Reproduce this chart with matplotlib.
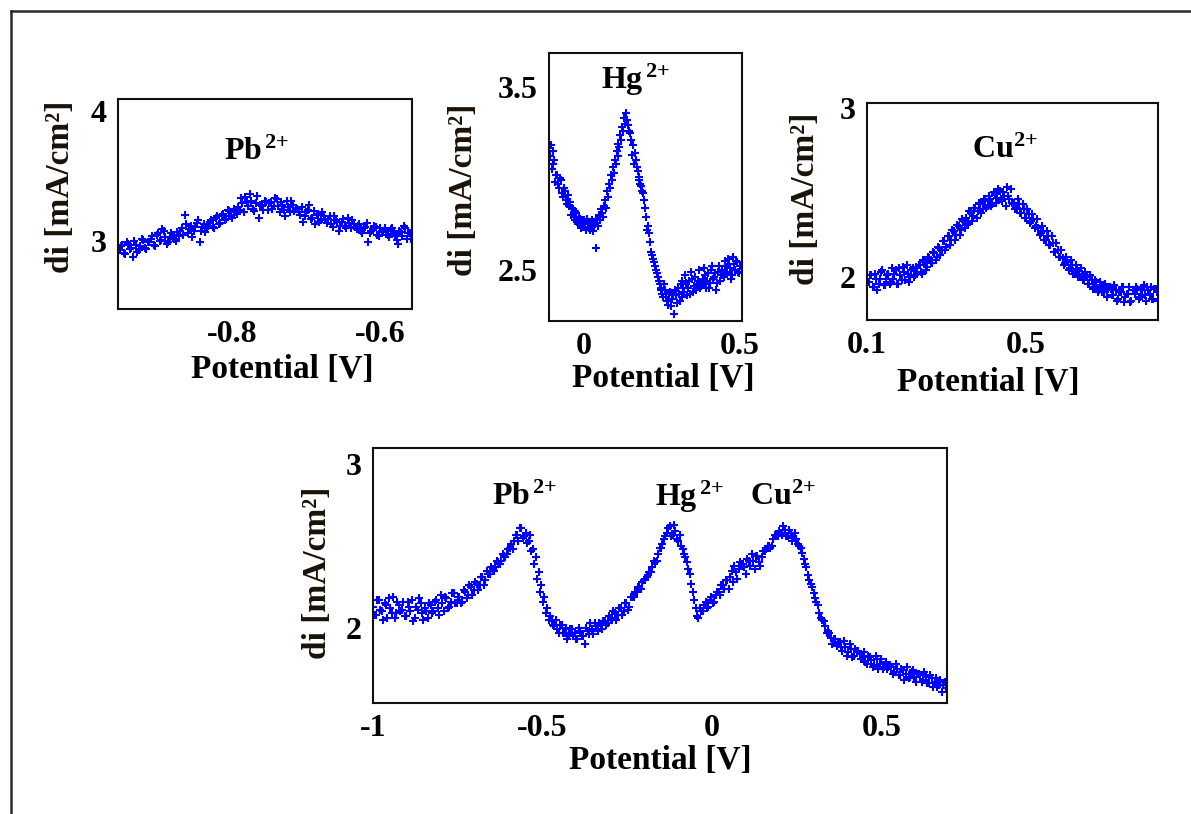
import numpy as np
import matplotlib
matplotlib.use('Agg')
import matplotlib.pyplot as plt
from matplotlib.lines import Line2D

plt.rcParams['font.family'] = ['Liberation Serif', 'DejaVu Serif']
plt.rcParams['font.weight'] = 'bold'
plt.rcParams['mathtext.fontset'] = 'custom'
plt.rcParams['mathtext.rm'] = 'Liberation Serif:bold'
plt.rcParams['mathtext.it'] = 'Liberation Serif:bold'
plt.rcParams['mathtext.bf'] = 'Liberation Serif:bold'

# Pb2+ panel (potential sweep -0.952 .. -0.556 V), two scans
pb_x_range = (-0.952, -0.556)
pb_y = [2.93, 2.97, 2.90, 2.98, 2.95, 3.00, 2.92, 2.96, 3.01, 2.94,
        2.99, 3.04, 2.96, 3.06, 3.01, 3.08, 2.98, 3.03, 3.05, 3.00,
        3.04, 3.10, 3.20, 3.06, 3.12, 3.08, 3.14, 2.99, 3.11, 3.07,
        3.12, 3.16, 3.10, 3.19, 3.14, 3.21, 3.17, 3.23, 3.18, 3.22,
        3.26, 3.33, 3.22, 3.30, 3.36, 3.25, 3.29, 3.18, 3.27, 3.31,
        3.24, 3.30, 3.27, 3.32, 3.22, 3.28, 3.19, 3.26, 3.31, 3.23,
        3.25, 3.20, 3.15, 3.22, 3.28, 3.18, 3.13, 3.21, 3.16, 3.19,
        3.14, 3.19, 3.11, 3.16, 3.08, 3.15, 3.12, 3.18, 3.10, 3.13,
        3.09, 3.13, 3.06, 3.11, 2.99, 3.08, 3.12, 3.05, 3.10, 3.07,
        3.08, 3.03, 3.10, 3.05, 2.98, 3.07, 3.12, 3.02, 3.06, 3.04]
pb_y2 = [2.96, 2.91, 2.99, 2.94, 2.88, 2.97, 2.93, 3.02, 2.95, 2.99,
         3.02, 2.97, 3.05, 3.00, 3.09, 3.03, 2.99, 3.06, 3.02, 3.07,
         3.08, 3.05, 3.13, 3.09, 3.03, 3.11, 3.16, 3.08, 3.13, 3.10,
         3.15, 3.11, 3.18, 3.13, 3.20, 3.16, 3.24, 3.19, 3.25, 3.21,
         3.24, 3.29, 3.34, 3.27, 3.31, 3.23, 3.35, 3.28, 3.24, 3.30,
         3.29, 3.25, 3.33, 3.27, 3.30, 3.24, 3.31, 3.22, 3.28, 3.25,
         3.22, 3.26, 3.19, 3.24, 3.17, 3.23, 3.20, 3.15, 3.22, 3.17,
         3.17, 3.13, 3.19, 3.15, 3.12, 3.17, 3.10, 3.14, 3.16, 3.11,
         3.12, 3.08, 3.10, 3.14, 3.06, 3.09, 3.11, 3.04, 3.08, 3.10,
         3.05, 3.09, 3.06, 3.01, 3.08, 3.04, 3.10, 3.06, 3.02, 3.08]

# Hg2+ panel (-0.110 .. 0.496 V)
hg_x_range = (-0.110, 0.496)
hg_y = [3.12, 3.05, 3.15, 2.98, 3.02, 2.95, 2.99, 2.90, 2.93, 2.86,
        2.85, 2.80, 2.83, 2.77, 2.81, 2.75, 2.78, 2.74, 2.77, 2.72,
        2.75, 2.72, 2.77, 2.74, 2.62, 2.78, 2.80, 2.83, 2.79, 2.88,
        2.93, 2.97, 3.02, 3.06, 3.10, 3.15, 3.19, 3.24, 3.28, 3.33,
        3.36, 3.29, 3.25, 3.13, 3.08, 3.10, 3.04, 2.99, 2.96, 2.92,
        2.84, 2.72, 2.70, 2.60, 2.56, 2.52, 2.48, 2.44, 2.40, 2.37,
        2.42, 2.35, 2.31, 2.38, 2.34, 2.26, 2.36, 2.40, 2.33, 2.44,
        2.40, 2.47, 2.36, 2.44, 2.49, 2.38, 2.46, 2.42, 2.50, 2.41,
        2.45, 2.51, 2.40, 2.48, 2.43, 2.52, 2.46, 2.39, 2.49, 2.44,
        2.50, 2.46, 2.55, 2.48, 2.53, 2.45, 2.57, 2.50, 2.54, 2.48]
hg_y2 = [3.18, 3.08, 3.10, 3.02, 2.97, 3.00, 2.92, 2.95, 2.88, 2.91,
         2.87, 2.84, 2.79, 2.82, 2.76, 2.79, 2.73, 2.76, 2.75, 2.78,
         2.73, 2.76, 2.71, 2.75, 2.78, 2.74, 2.77, 2.81, 2.85, 2.84,
         2.90, 2.95, 2.99, 3.03, 3.08, 3.12, 3.17, 3.21, 3.26, 3.30,
         3.32, 3.26, 3.21, 3.18, 3.14, 3.06, 3.01, 2.97, 2.93, 2.88,
         2.79, 2.74, 2.65, 2.58, 2.54, 2.50, 2.46, 2.42, 2.39, 2.35,
         2.39, 2.33, 2.37, 2.30, 2.36, 2.39, 2.32, 2.37, 2.42, 2.35,
         2.38, 2.43, 2.40, 2.37, 2.45, 2.41, 2.39, 2.44, 2.40, 2.43,
         2.42, 2.47, 2.44, 2.40, 2.50, 2.45, 2.48, 2.43, 2.52, 2.47,
         2.47, 2.52, 2.49, 2.56, 2.51, 2.47, 2.53, 2.55, 2.49, 2.52]

# Cu2+ panel (0.105 .. 0.830 V)
cu_x_range = (0.105, 0.830)
cu_y = [1.97, 2.01, 1.94, 1.99, 1.96, 2.03, 1.95, 1.99, 2.02, 1.97,
        1.99, 2.04, 1.96, 2.01, 2.06, 1.98, 2.02, 2.00, 2.05, 2.01,
        2.03, 2.07, 2.02, 2.09, 2.06, 2.11, 2.08, 2.14, 2.12, 2.17,
        2.16, 2.21, 2.18, 2.24, 2.22, 2.27, 2.25, 2.30, 2.28, 2.33,
        2.35, 2.32, 2.38, 2.36, 2.41, 2.39, 2.43, 2.40, 2.45, 2.42,
        2.46, 2.43, 2.49, 2.47, 2.51, 2.45, 2.48, 2.53, 2.46, 2.44,
        2.44, 2.41, 2.43, 2.38, 2.40, 2.35, 2.37, 2.33, 2.34, 2.30,
        2.29, 2.26, 2.27, 2.22, 2.24, 2.19, 2.20, 2.15, 2.16, 2.12,
        2.11, 2.08, 2.09, 2.05, 2.07, 2.03, 2.04, 2.01, 2.02, 1.99,
        2.00, 1.96, 1.98, 1.94, 1.97, 1.92, 1.95, 1.91, 1.94, 1.93,
        1.93, 1.89, 1.92, 1.87, 1.91, 1.94, 1.88, 1.90, 1.85, 1.92,
        1.90, 1.93, 1.88, 1.92, 1.89, 1.94, 1.90, 1.87, 1.93, 1.91]
cu_y2 = [2.01, 1.94, 2.02, 1.92, 1.99, 2.04, 1.95, 2.01, 1.96, 2.05,
         2.02, 1.96, 2.05, 1.98, 2.03, 2.07, 1.97, 2.04, 2.00, 2.06,
         2.07, 2.03, 2.10, 2.04, 2.12, 2.08, 2.15, 2.10, 2.18, 2.13,
         2.21, 2.16, 2.24, 2.19, 2.28, 2.22, 2.31, 2.25, 2.34, 2.29,
         2.31, 2.39, 2.33, 2.41, 2.35, 2.44, 2.38, 2.46, 2.41, 2.48,
         2.42, 2.50, 2.44, 2.52, 2.46, 2.50, 2.42, 2.48, 2.52, 2.43,
         2.40, 2.46, 2.38, 2.43, 2.35, 2.40, 2.32, 2.37, 2.29, 2.34,
         2.25, 2.30, 2.22, 2.27, 2.19, 2.24, 2.15, 2.20, 2.12, 2.16,
         2.07, 2.12, 2.04, 2.10, 2.02, 2.07, 2.00, 2.05, 1.98, 2.03,
         1.96, 2.01, 1.93, 1.98, 1.91, 1.97, 1.91, 1.96, 1.88, 1.94,
         1.89, 1.95, 1.86, 1.91, 1.94, 1.85, 1.90, 1.94, 1.86, 1.92,
         1.94, 1.87, 1.92, 1.95, 1.86, 1.92, 1.94, 1.87, 1.93, 1.86]

# mixture panel (-1.000 .. 0.690 V)
mix_x_range = (-1.000, 0.690)
mix_y = [2.13, 2.08, 2.17, 2.10, 2.15, 2.06, 2.12, 2.19, 2.09, 2.14,
         2.11, 2.07, 2.16, 2.10, 2.04, 2.13, 2.18, 2.09, 2.12, 2.06,
         2.14, 2.10, 2.17, 2.08, 2.15, 2.19, 2.12, 2.16, 2.21, 2.15,
         2.19, 2.16, 2.22, 2.20, 2.25, 2.23, 2.27, 2.26, 2.31, 2.29,
         2.33, 2.37, 2.35, 2.41, 2.39, 2.45, 2.43, 2.48, 2.51, 2.53,
         2.57, 2.61, 2.55, 2.58, 2.53, 2.47, 2.39, 2.30, 2.22, 2.16,
         2.09, 2.05, 2.04, 2.01, 1.99, 2.02, 1.97, 2.00, 1.96, 1.99,
         1.97, 1.93, 1.98, 1.95, 2.00, 1.96, 1.99, 2.03, 1.98, 2.02,
         2.04, 2.02, 2.07, 2.05, 2.09, 2.08, 2.12, 2.10, 2.15, 2.13,
         2.19, 2.22, 2.25, 2.24, 2.29, 2.31, 2.34, 2.37, 2.40, 2.45,
         2.49, 2.54, 2.58, 2.62, 2.57, 2.59, 2.53, 2.50, 2.45, 2.40,
         2.33, 2.22, 2.12, 2.06, 2.10, 2.14, 2.12, 2.17, 2.15, 2.20,
         2.22, 2.26, 2.24, 2.29, 2.31, 2.28, 2.34, 2.36, 2.39, 2.37,
         2.42, 2.38, 2.41, 2.44, 2.40, 2.43, 2.47, 2.50, 2.49, 2.54,
         2.56, 2.59, 2.57, 2.60, 2.56, 2.58, 2.55, 2.54, 2.50, 2.46,
         2.39, 2.32, 2.27, 2.21, 2.16, 2.09, 2.05, 2.01, 1.98, 1.94,
         1.93, 1.89, 1.91, 1.86, 1.88, 1.85, 1.87, 1.83, 1.86, 1.84,
         1.82, 1.79, 1.83, 1.80, 1.77, 1.81, 1.78, 1.75, 1.79, 1.76,
         1.76, 1.73, 1.75, 1.71, 1.74, 1.72, 1.69, 1.73, 1.70, 1.72,
         1.71, 1.68, 1.70, 1.66, 1.69, 1.67, 1.64, 1.68, 1.65, 1.63]
mix_y2 = [2.08, 2.17, 2.11, 2.05, 2.14, 2.18, 2.09, 2.06, 2.16, 2.10,
          2.16, 2.07, 2.13, 2.17, 2.06, 2.11, 2.15, 2.05, 2.10, 2.15,
          2.09, 2.16, 2.12, 2.20, 2.10, 2.18, 2.13, 2.21, 2.15, 2.19,
          2.15, 2.23, 2.18, 2.26, 2.20, 2.28, 2.23, 2.31, 2.26, 2.35,
          2.33, 2.36, 2.37, 2.40, 2.41, 2.44, 2.45, 2.49, 2.48, 2.57,
          2.53, 2.61, 2.56, 2.52, 2.57, 2.48, 2.43, 2.34, 2.26, 2.19,
          2.12, 2.07, 2.02, 2.05, 1.97, 2.02, 1.97, 1.93, 1.99, 1.95,
          1.93, 2.00, 1.95, 1.90, 1.98, 2.03, 1.96, 2.01, 2.03, 1.99,
          2.04, 2.03, 2.06, 2.10, 2.05, 2.12, 2.08, 2.15, 2.11, 2.19,
          2.19, 2.22, 2.25, 2.28, 2.29, 2.32, 2.34, 2.41, 2.41, 2.49,
          2.51, 2.56, 2.61, 2.56, 2.63, 2.54, 2.57, 2.48, 2.43, 2.36,
          2.27, 2.17, 2.07, 2.12, 2.10, 2.16, 2.13, 2.19, 2.16, 2.22,
          2.20, 2.26, 2.29, 2.24, 2.35, 2.38, 2.30, 2.40, 2.39, 2.33,
          2.41, 2.45, 2.36, 2.44, 2.38, 2.47, 2.48, 2.50, 2.50, 2.57,
          2.56, 2.58, 2.62, 2.56, 2.60, 2.53, 2.58, 2.51, 2.49, 2.42,
          2.37, 2.29, 2.25, 2.18, 2.14, 2.06, 2.04, 1.97, 1.97, 1.90,
          1.93, 1.91, 1.88, 1.92, 1.83, 1.90, 1.82, 1.87, 1.86, 1.81,
          1.85, 1.78, 1.82, 1.76, 1.83, 1.75, 1.81, 1.76, 1.75, 1.77,
          1.72, 1.78, 1.71, 1.75, 1.68, 1.76, 1.70, 1.74, 1.67, 1.72,
          1.67, 1.73, 1.66, 1.71, 1.64, 1.69, 1.65, 1.61, 1.67, 1.63]

fig = plt.figure(figsize=(11.91, 8.14), dpi=100)

# outer frame (only top and left visible in the original)
fig.add_artist(Line2D([11/1191, 11/1191], [0, 1 - 11/814], transform=fig.transFigure, color='#2a2a2a', lw=1.8))
fig.add_artist(Line2D([11/1191, 1], [1 - 11/814, 1 - 11/814], transform=fig.transFigure, color='#2a2a2a', lw=1.8))

panels = [
    # rect, x range, scans, xlim, ylim, xticks, xticklabels, yticks, yticklabels, peak labels, ylabel pos, xlabel pos
    ([0.0991, 0.6204, 0.2469, 0.258], pb_x_range, [pb_y, pb_y2], (-0.954, -0.557), (2.48, 4.09),
     [-0.8, -0.6], ['-0.8', '-0.6'], [3, 4], ['3', '4'],
     [(0.473, 0.748, r'Pb$^{\,2{+}}$')], (-0.197, 0.58), (0.558, -0.29)),
    ([0.461, 0.6057, 0.162, 0.3292], hg_x_range, [hg_y, hg_y2], (-0.112, 0.506), (2.22, 3.686),
     [0, 0.5], ['0', '0.5'], [2.5, 3.5], ['2.5', '3.5'],
     [(0.45, 0.9, r'Hg$^{\,2{+}}$')], (-0.445, 0.49), (0.59, -0.213)),
    ([0.728, 0.6069, 0.2443, 0.2666], cu_x_range, [cu_y, cu_y2], (0.105, 0.833), (1.745, 3.03),
     [0.1, 0.5], ['0.1', '0.5'], [2, 3], ['2', '3'],
     [(0.474, 0.783, r'Cu$^{2{+}}$')], (-0.213, 0.56), (0.416, -0.286)),
    ([0.3132, 0.1364, 0.482, 0.3133], mix_x_range, [mix_y, mix_y2], (-1.0, 0.693), (1.54, 3.10),
     [-1, -0.5, 0, 0.5], ['-1', '-0.5', '0', '0.5'], [2, 3], ['2', '3'],
     [(0.265, 0.808, r'Pb$^{\,2{+}}$'), (0.552, 0.808, r'Hg$^{\,2{+}}$'), (0.714, 0.808, r'Cu$^{2{+}}$')],
     (-0.096, 0.51), (0.5, -0.224)),
]

for rect, xr, scans, xlim, ylim, xt, xtl, yt, ytl, labels, ylpos, xlpos in panels:
    ax = fig.add_axes(rect)
    for k, ys in enumerate(scans):
        step = (xr[1] - xr[0]) / (len(ys) - 1)
        xs = np.linspace(xr[0], xr[1], len(ys)) + k * step / 2
        ax.plot(xs, ys, '+', color='#0000ff', markersize=5.5, markeredgewidth=1.5)
    ax.set_xlim(xlim)
    ax.set_ylim(ylim)
    ax.set_xticks(xt)
    ax.set_xticklabels(xtl)
    ax.set_yticks(yt)
    ax.set_yticklabels(ytl)
    ax.tick_params(length=0, labelsize=23, pad=8)
    for lab in ax.get_xticklabels() + ax.get_yticklabels():
        lab.set_fontweight('bold')
    for s in ax.spines.values():
        s.set_linewidth(1.5)
        s.set_color('#111111')
    for tx, ty, t in labels:
        ax.text(tx, ty, t, transform=ax.transAxes, ha='center', va='center', fontsize=23, fontweight='bold')
    ax.text(ylpos[0], ylpos[1], 'di [mA/cm²]', transform=ax.transAxes, rotation=90,
            ha='center', va='center', fontsize=24, fontweight='bold', color='#1a1208')
    ax.text(xlpos[0], xlpos[1], 'Potential [V]', transform=ax.transAxes,
            ha='center', va='center', fontsize=24, fontweight='bold')

fig.savefig('out.png', dpi=100)
